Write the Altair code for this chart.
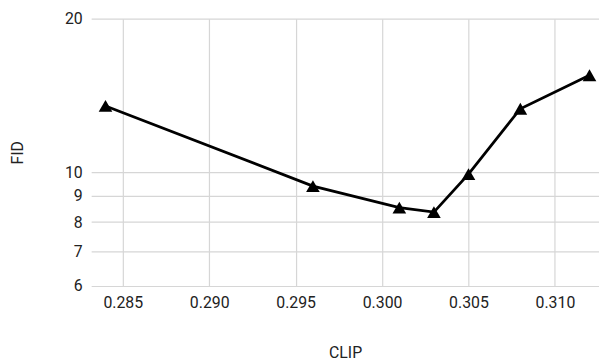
import altair as alt
import pandas as pd

clip = [0.284, 0.296, 0.301, 0.303, 0.305, 0.308, 0.312]
fid = [13.5, 9.41, 8.54, 8.37, 9.93, 13.33, 15.5]
x_ticks = [0.285, 0.290, 0.295, 0.300, 0.305, 0.310]
y_ticks = [6, 7, 8, 9, 10, 20]

df = pd.DataFrame({"CLIP": clip, "FID": fid})

base = alt.Chart(df).encode(
    x=alt.X("CLIP:Q", title="CLIP",
            scale=alt.Scale(domain=[0.28317, 0.31255], nice=False, zero=False),
            axis=alt.Axis(values=x_ticks, format=".3f", titlePadding=34, labelPadding=9)),
    y=alt.Y("FID:Q", title="FID",
            scale=alt.Scale(type="log", domain=[6, 20], nice=False),
            axis=alt.Axis(values=y_ticks, format="d", titlePadding=39, labelPadding=9)),
)

line = base.mark_line(color="black", strokeWidth=2.8)
pts = base.mark_point(shape="triangle-up", filled=True, color="black", size=190, opacity=1)

chart = (line + pts).properties(
    width=513, height=270,
    autosize=alt.AutoSizeParams(type="none"),
    padding={"left": 84, "top": 9, "right": 0, "bottom": 75},
).configure_view(stroke=None).configure_axis(
    domain=False, ticks=False, gridColor="#d6d6d6", gridWidth=1.2,
    labelFont="Roboto", labelFontSize=16, labelColor="#222222",
    titleFont="Roboto", titleFontSize=16, titleFontWeight="normal", titleColor="#222222",
)

chart.save("out.html", embed_options={"renderer": "svg", "actions": False})
